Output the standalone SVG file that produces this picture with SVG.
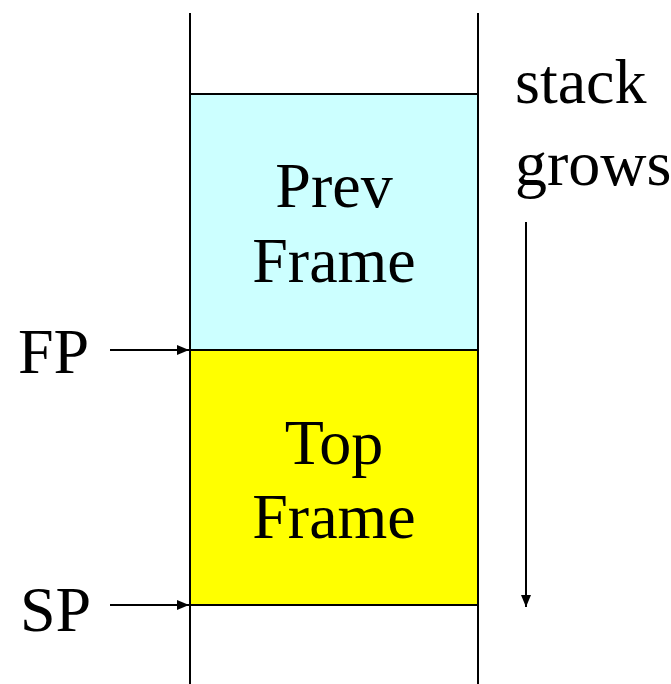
<svg xmlns="http://www.w3.org/2000/svg" width="671" height="684" viewBox="0 0 671 684">
<style>
text{font-family:"Liberation Serif","Times New Roman",serif;font-size:64px;fill:#000}
.c{text-anchor:middle}
.ln{stroke:#000;stroke-width:2;fill:none}
</style>
<defs>
<marker id="ah" markerWidth="12" markerHeight="10" refX="12" refY="5" orient="auto" markerUnits="userSpaceOnUse">
<path d="M0,0 L12,5 L0,10 Z" fill="#000"/>
</marker>
</defs>
<rect width="671" height="684" fill="#fff"/>
<g id="prev-frame">
<rect x="190" y="94" width="288" height="256" fill="#ccffff" stroke="#000" stroke-width="2"/>
<text class="c" x="334" y="207">Prev</text>
<text class="c" x="334" y="282">Frame</text>
</g>
<g id="top-frame">
<rect x="190" y="350" width="288" height="255" fill="#ffff00" stroke="#000" stroke-width="2"/>
<text class="c" x="334" y="464">Top</text>
<text class="c" x="334" y="538">Frame</text>
</g>
<g id="stack-walls">
<line class="ln" x1="190" y1="13" x2="190" y2="684"/>
<line class="ln" x1="478" y1="13" x2="478" y2="684"/>
</g>
<g id="fp-label"><text x="18" y="373">FP</text></g>
<g id="sp-label"><text x="20" y="631">SP</text></g>
<g id="grows-label"><text x="515" y="103">stack</text><text x="515" y="185">grows</text></g>
<g id="connectors">
<line class="ln" x1="110" y1="350" x2="189" y2="350" marker-end="url(#ah)"/>
<line class="ln" x1="110" y1="605" x2="189" y2="605" marker-end="url(#ah)"/>
<line class="ln" x1="526" y1="222" x2="526" y2="607" marker-end="url(#ah)"/>
</g>
</svg>
